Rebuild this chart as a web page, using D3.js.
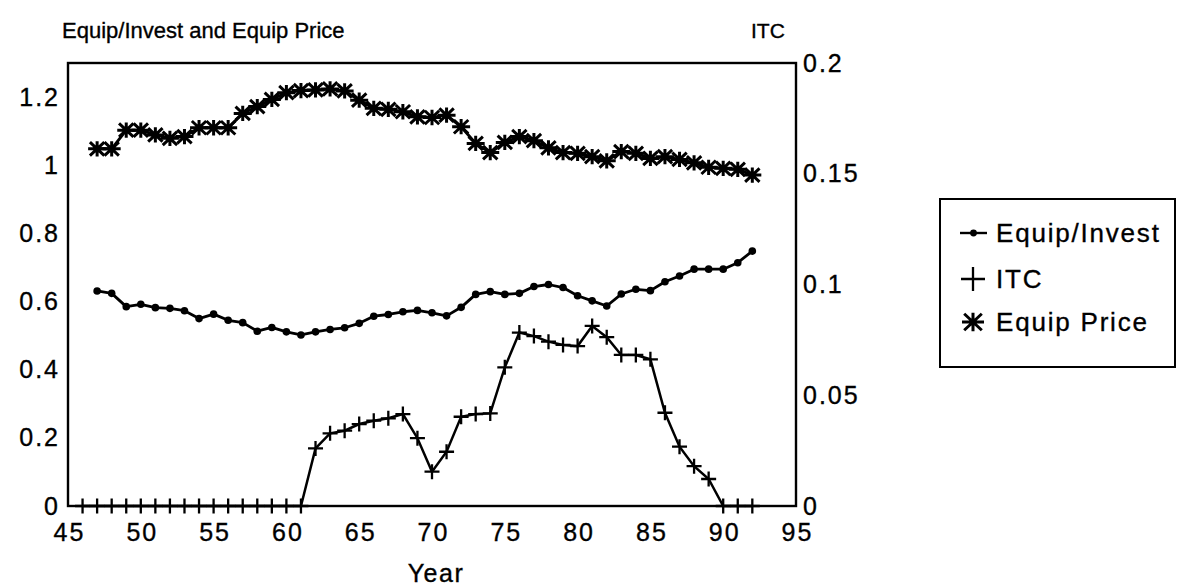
<!DOCTYPE html>
<html>
<head>
<meta charset="utf-8">
<script src="https://d3js.org/d3.v7.min.js"></script>
<style>
	body { margin: 0; background: white; }
	text { font-family: "Liberation Sans", Arial, sans-serif; fill: black; stroke: black; stroke-width: 0.35px; }
</style>
</head>
<body>
<div id="content"></div>
<script>

// Years for each series
var yearsInvest = [47, 48, 49, 50, 51, 52, 53, 54, 55, 56, 57, 58, 59, 60, 61, 62, 63, 64, 65, 66, 67, 68, 69,
	70, 71, 72, 73, 74, 75, 76, 77, 78, 79, 80, 81, 82, 83, 84, 85, 86, 87, 88, 89, 90, 91, 92];
var yearsITC = [46, 47, 48, 49, 50, 51, 52, 53, 54, 55, 56, 57, 58, 59, 60, 61, 62, 63, 64, 65, 66, 67, 68, 69,
	70, 71, 72, 73, 74, 75, 76, 77, 78, 79, 80, 81, 82, 83, 84, 85, 86, 87, 88, 89, 90, 91, 92];

// Equip/Invest (left axis)
var equipInvest = [0.631, 0.624, 0.585, 0.592, 0.582, 0.580, 0.573, 0.550, 0.563, 0.545,
	0.538, 0.513, 0.524, 0.511, 0.502, 0.511, 0.518, 0.523, 0.536, 0.557,
	0.562, 0.570, 0.574, 0.567, 0.558, 0.583, 0.621, 0.629, 0.621, 0.624,
	0.644, 0.650, 0.641, 0.617, 0.602, 0.587, 0.622, 0.636, 0.632, 0.658,
	0.675, 0.695, 0.695, 0.695, 0.714, 0.748];

// Equip Price (left axis)
var equipPrice = [1.048, 1.048, 1.103, 1.103, 1.089, 1.079, 1.084, 1.110, 1.110, 1.110,
	1.152, 1.172, 1.193, 1.213, 1.219, 1.221, 1.224, 1.218, 1.191, 1.167,
	1.164, 1.157, 1.142, 1.140, 1.147, 1.113, 1.064, 1.037, 1.067, 1.084,
	1.072, 1.051, 1.037, 1.035, 1.025, 1.013, 1.040, 1.035, 1.020, 1.025,
	1.017, 1.007, 0.994, 0.991, 0.988, 0.971];

// ITC (right axis)
var itc = [0, 0, 0, 0, 0, 0, 0, 0, 0, 0, 0, 0, 0, 0, 0, 0,
	0.026, 0.0328, 0.034, 0.037, 0.0385, 0.0396, 0.0415, 0.0306, 0.0155, 0.0245,
	0.0403, 0.0415, 0.0418, 0.0626, 0.0783, 0.0767, 0.0742, 0.0727, 0.0722, 0.0813,
	0.0762, 0.0682, 0.0682, 0.0662, 0.0421, 0.0268, 0.018, 0.0122, 0, 0, 0];

// Tick labels
var xTicks = [45, 50, 55, 60, 65, 70, 75, 80, 85, 90, 95];
var leftTicks = [0, 0.2, 0.4, 0.6, 0.8, 1, 1.2];
var rightTicks = [0, 0.05, 0.1, 0.15, 0.2];

var legendNames = ["Equip/Invest", "ITC", "Equip Price"];

function main() {
	var svg = d3.select("#content")
		.append("svg")
		.attr("width", 1192)
		.attr("height", 588);

	var plot = { left: 68, right: 796, top: 63, bottom: 506 };

	var x = d3.scaleLinear().domain([45, 95]).range([plot.left, plot.right]);
	var yLeft = d3.scaleLinear().domain([0, 1.3]).range([plot.bottom, plot.top]);
	var yRight = d3.scaleLinear().domain([0, 0.2]).range([plot.bottom, plot.top]);

	// Axes (labels only, frame drawn separately)
	var fmt = function (d) { return String(d); };

	var gx = svg.append("g")
		.attr("transform", "translate(1," + plot.bottom + ")")
		.call(d3.axisBottom(x).tickValues(xTicks).tickSize(0).tickPadding(17).tickFormat(fmt));
	var gl = svg.append("g")
		.attr("transform", "translate(" + plot.left + ",0)")
		.call(d3.axisLeft(yLeft).tickValues(leftTicks).tickSize(0).tickPadding(8).tickFormat(fmt));
	var gr = svg.append("g")
		.attr("transform", "translate(" + plot.right + ",0)")
		.call(d3.axisRight(yRight).tickValues(rightTicks).tickSize(0).tickPadding(7).tickFormat(fmt));

	[gx, gl, gr].forEach(function (g) {
		g.select(".domain").remove();
		g.selectAll("text")
			.style("font-family", "'Liberation Sans', Arial, sans-serif")
			.style("font-size", "25px")
			.style("letter-spacing", "2px")
			.attr("fill", "black");
	});

	// Frame
	svg.append("rect")
		.attr("x", plot.left)
		.attr("y", plot.top)
		.attr("width", plot.right - plot.left)
		.attr("height", plot.bottom - plot.top)
		.attr("fill", "none")
		.attr("stroke", "black")
		.attr("stroke-width", 2.4);

	// Titles
	svg.append("text")
		.attr("x", 62)
		.attr("y", 38)
		.style("font-size", "22px")
		.text("Equip/Invest and Equip Price");
	svg.append("text")
		.attr("x", 751)
		.attr("y", 38)
		.style("font-size", "21px")
		.text("ITC");
	svg.append("text")
		.attr("x", 436)
		.attr("y", 582)
		.attr("text-anchor", "middle")
		.style("font-size", "25px")
		.style("letter-spacing", "1.5px")
		.text("Year");

	var lineGroup = svg.append("g");

	// Equip/Invest
	var investData = yearsInvest.map(function (yr, i) { return [yr, equipInvest[i]]; });
	lineGroup.append("path")
		.datum(investData)
		.attr("fill", "none")
		.attr("stroke", "black")
		.attr("stroke-width", 2.8)
		.attr("stroke-linejoin", "round")
		.attr("d", d3.line().x(function (d) { return x(d[0]); }).y(function (d) { return yLeft(d[1]); }));
	lineGroup.selectAll(".dot")
		.data(investData)
		.enter().append("circle")
		.attr("class", "dot")
		.attr("cx", function (d) { return x(d[0]); })
		.attr("cy", function (d) { return yLeft(d[1]); })
		.attr("r", 3.8)
		.attr("fill", "black");

	// ITC
	var itcData = yearsITC.map(function (yr, i) { return [yr, itc[i]]; });
	lineGroup.append("path")
		.datum(itcData)
		.attr("fill", "none")
		.attr("stroke", "black")
		.attr("stroke-width", 2.5)
		.attr("d", d3.line().x(function (d) { return x(d[0]); }).y(function (d) { return yRight(d[1]); }));
	lineGroup.selectAll(".plus")
		.data(itcData)
		.enter().append("path")
		.attr("class", "plus")
		.attr("transform", function (d) { return "translate(" + x(d[0]) + "," + yRight(d[1]) + ")"; })
		.attr("d", plusPath(7.5))
		.attr("fill", "none")
		.attr("stroke", "black")
		.attr("stroke-width", 2.3);

	// Equip Price
	var priceData = yearsInvest.map(function (yr, i) { return [yr, equipPrice[i]]; });
	lineGroup.append("path")
		.datum(priceData)
		.attr("fill", "none")
		.attr("stroke", "black")
		.attr("stroke-width", 3)
		.attr("d", d3.line().x(function (d) { return x(d[0]); }).y(function (d) { return yLeft(d[1]); }));
	lineGroup.selectAll(".star")
		.data(priceData)
		.enter().append("path")
		.attr("class", "star")
		.attr("transform", function (d) { return "translate(" + x(d[0]) + "," + yLeft(d[1]) + ")"; })
		.attr("d", starPath(9))
		.attr("fill", "none")
		.attr("stroke", "black")
		.attr("stroke-width", 3);

	// Legend
	var legend = svg.append("g");
	legend.append("rect")
		.attr("x", 940)
		.attr("y", 199)
		.attr("width", 235)
		.attr("height", 168)
		.attr("fill", "white")
		.attr("stroke", "black")
		.attr("stroke-width", 2);

	var rows = [233, 279, 322];
	legendNames.forEach(function (name, i) {
		var cy = rows[i];
		if (i == 0) {
			legend.append("line")
				.attr("x1", 960).attr("x2", 987)
				.attr("y1", cy).attr("y2", cy)
				.attr("stroke", "black").attr("stroke-width", 2.4);
			legend.append("circle")
				.attr("cx", 973.5).attr("cy", cy).attr("r", 3.4)
				.attr("fill", "black");
		} else if (i == 1) {
			legend.append("path")
				.attr("transform", "translate(973," + cy + ")")
				.attr("d", plusPath(12))
				.attr("fill", "none").attr("stroke", "black").attr("stroke-width", 2.3);
		} else {
			legend.append("path")
				.attr("transform", "translate(973," + cy + ")")
				.attr("d", starPath(11))
				.attr("fill", "none").attr("stroke", "black").attr("stroke-width", 3);
		}
		legend.append("text")
			.attr("x", 996)
			.attr("y", cy + 9)
			.style("font-size", "26px")
			.style("letter-spacing", "1.8px")
			.text(name);
	});
}

// Plus marker
function plusPath(s) {
	return "M" + (-s) + ",0L" + s + ",0M0," + (-s) + "L0," + s;
}

// Star marker (8 arms)
function starPath(s) {
	var v = s * 0.85;
	var dx = s * 0.8, dy = s * 0.75;
	return "M" + (-s) + ",0L" + s + ",0" +
		"M0," + (-v) + "L0," + v +
		"M" + (-dx) + "," + (-dy) + "L" + dx + "," + dy +
		"M" + (-dx) + "," + dy + "L" + dx + "," + (-dy);
}

(() => {
	main();
})()
</script>
</body>
</html>
